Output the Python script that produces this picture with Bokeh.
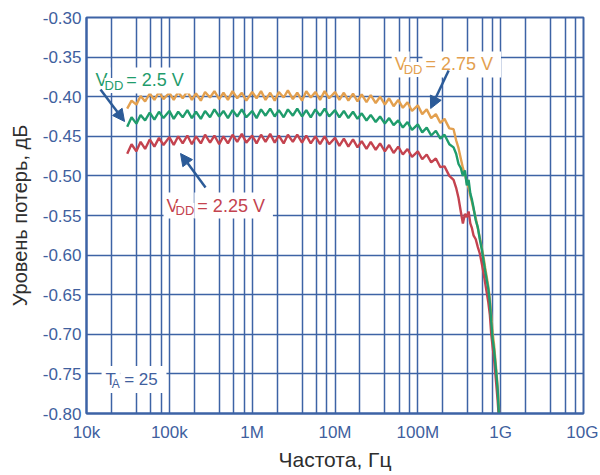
from bokeh.plotting import figure
from bokeh.models import (FixedTicker, CustomJSTickFormatter, NumeralTickFormatter,
                          Label, Arrow, NormalHead)
from bokeh.embed import file_html
from bokeh.resources import INLINE

# ---------------- data ----------------
freq_hz = [31e3, 35e3, 40e3, 45e3, 51e3, 58e3, 66e3, 75e3, 85e3,
           100e3, 113e3, 128e3, 145e3, 165e3, 187e3, 210e3, 240e3, 270e3, 310e3, 350e3, 400e3, 450e3, 510e3, 580e3, 660e3, 750e3, 850e3,
           1.0e6, 1.13e6, 1.28e6, 1.45e6, 1.65e6, 1.87e6, 2.1e6, 2.4e6, 2.7e6, 3.1e6, 3.5e6, 4.0e6, 4.5e6, 5.1e6, 5.8e6, 6.6e6, 7.5e6, 8.5e6,
           10e6, 11.3e6, 12.8e6, 14.5e6, 16.5e6, 18.7e6, 21e6, 24e6, 27e6, 31e6, 35e6, 40e6, 45e6, 51e6, 58e6, 66e6, 75e6, 85e6,
           100e6, 113e6, 128e6, 145e6, 165e6, 187e6, 210e6, 240e6, 270e6,
           290e6, 310e6, 330e6, 350e6, 370e6, 390e6, 410e6, 430e6, 450e6, 470e6,
           500e6, 530e6, 560e6, 590e6, 620e6, 650e6, 680e6, 710e6, 740e6, 770e6, 800e6, 830e6, 860e6, 890e6, 920e6, 950e6, 980e6]

loss_vdd_275 = [-0.415, -0.405, -0.410, -0.399, -0.406, -0.396, -0.404, -0.394, -0.403,
                -0.395, -0.404, -0.394, -0.402, -0.393, -0.404, -0.396, -0.405, -0.394, -0.401, -0.393, -0.403, -0.395, -0.404, -0.393, -0.402, -0.395, -0.405,
                -0.394, -0.402, -0.393, -0.404, -0.395, -0.405, -0.394, -0.401, -0.392, -0.403, -0.395, -0.405, -0.393, -0.401, -0.394, -0.404, -0.393, -0.402,
                -0.394, -0.404, -0.395, -0.405, -0.396, -0.406, -0.397, -0.407, -0.398, -0.408, -0.400, -0.410, -0.402, -0.412, -0.404, -0.414, -0.407, -0.418,
                -0.411, -0.422, -0.416, -0.427, -0.422, -0.433, -0.428, -0.440, -0.441,
                -0.455, -0.465, -0.478, -0.490, -0.498, -0.508, -0.515, -0.525, -0.533, -0.542,
                -0.553, -0.566, -0.578, -0.590, -0.602, -0.616, -0.628, -0.640, -0.655, -0.676, -0.698, -0.712, -0.730, -0.748, -0.766, -0.790, -0.830]

loss_vdd_250 = [-0.438, -0.426, -0.434, -0.423, -0.430, -0.420, -0.429, -0.419, -0.427,
                -0.418, -0.428, -0.419, -0.426, -0.417, -0.427, -0.419, -0.428, -0.418, -0.426, -0.416, -0.425, -0.418, -0.427, -0.417, -0.425, -0.416, -0.426,
                -0.418, -0.427, -0.416, -0.424, -0.415, -0.425, -0.417, -0.426, -0.416, -0.424, -0.415, -0.425, -0.417, -0.426, -0.416, -0.424, -0.415, -0.425,
                -0.417, -0.426, -0.418, -0.427, -0.419, -0.428, -0.421, -0.430, -0.423, -0.432, -0.425, -0.434, -0.427, -0.436, -0.430, -0.439, -0.432, -0.442,
                -0.435, -0.445, -0.439, -0.449, -0.443, -0.453, -0.448, -0.460, -0.464,
                -0.472, -0.485, -0.490, -0.500, -0.493, -0.512, -0.505, -0.522, -0.530, -0.540,
                -0.556, -0.565, -0.580, -0.592, -0.606, -0.620, -0.632, -0.643, -0.660, -0.684, -0.706, -0.718, -0.735, -0.752, -0.770, -0.800, -0.835]

loss_vdd_225 = [-0.472, -0.460, -0.469, -0.457, -0.466, -0.454, -0.463, -0.452, -0.461,
                -0.451, -0.461, -0.450, -0.459, -0.449, -0.460, -0.450, -0.459, -0.448, -0.458, -0.449, -0.460, -0.450, -0.459, -0.448, -0.457, -0.447, -0.458,
                -0.449, -0.459, -0.448, -0.457, -0.447, -0.458, -0.449, -0.459, -0.448, -0.457, -0.448, -0.458, -0.449, -0.459, -0.450, -0.460, -0.450, -0.460,
                -0.452, -0.462, -0.453, -0.463, -0.454, -0.464, -0.456, -0.466, -0.457, -0.467, -0.459, -0.469, -0.461, -0.471, -0.463, -0.473, -0.466, -0.476,
                -0.469, -0.479, -0.473, -0.483, -0.478, -0.489, -0.488, -0.500, -0.505,
                -0.515, -0.528, -0.545, -0.560, -0.548, -0.552, -0.545, -0.560, -0.566, -0.575,
                -0.580, -0.590, -0.598, -0.610, -0.622, -0.635, -0.648, -0.660, -0.675, -0.700, -0.716, -0.730, -0.748, -0.766, -0.784, -0.805, -0.840]

x_tick_values = [1e4, 1e5, 1e6, 1e7, 1e8, 1e9, 1e10]
x_tick_labels = ["10k", "100k", "1M", "10M", "100M", "1G", "10G"]
x_grid_values = [1e4, 2e4, 4e4, 6e4, 8e4, 1e5, 2e5, 4e5, 6e5, 8e5, 1e6, 2e6, 4e6, 6e6, 8e6,
                 1e7, 2e7, 4e7, 6e7, 8e7, 1e8, 2e8, 4e8, 6e8, 8e8, 1e9, 2e9, 4e9, 6e9, 8e9, 1e10]
y_tick_values = [-0.80, -0.75, -0.70, -0.65, -0.60, -0.55, -0.50, -0.45, -0.40, -0.35, -0.30]
x_title = "Частота, Гц"
y_title = "Уровень потерь, дБ"

# ---------------- styles ----------------
FONT = "Liberation Sans"
BLUE = "#3d63a5"
TICK_BLUE = "#40609e"
TITLE = "#2e2e2e"
C_OR = "#e3a04f"
C_GR = "#1f9c6c"
C_RD = "#c4434f"
ARROW = "#2c5b98"

p = figure(width=598, height=473, x_axis_type="log", x_range=(1e4, 1e10), y_range=(-0.80, -0.30),
           output_backend="svg", toolbar_location=None,
           min_border_left=86, min_border_right=15, min_border_top=17, min_border_bottom=60)

p.background_fill_color = "white"
p.border_fill_color = "white"
p.outline_line_color = BLUE
p.outline_line_width = 2

p.xaxis.ticker = FixedTicker(ticks=x_tick_values)
p.xaxis.formatter = CustomJSTickFormatter(
    args=dict(vals=x_tick_values, labs=x_tick_labels),
    code="const i = vals.findIndex(v => Math.abs(Math.log10(v) - Math.log10(tick)) < 1e-6); return i >= 0 ? labs[i] : '';")
p.yaxis.ticker = FixedTicker(ticks=y_tick_values)
p.yaxis.formatter = NumeralTickFormatter(format="0.00")

p.xgrid.ticker = FixedTicker(ticks=x_grid_values)
p.ygrid.ticker = FixedTicker(ticks=y_tick_values)
for g in (p.xgrid, p.ygrid):
    g.grid_line_color = BLUE
    g.grid_line_width = 1.5
    g.grid_line_alpha = 1.0

for ax in (p.xaxis, p.yaxis):
    ax.axis_line_color = BLUE
    ax.axis_line_width = 2
    ax.major_tick_line_color = None
    ax.minor_tick_line_color = None
    ax.major_tick_out = 0
    ax.major_tick_in = 0
    ax.minor_tick_out = 0
    ax.minor_tick_in = 0
    ax.major_label_text_font = FONT
    ax.major_label_text_font_size = "17px"
    ax.major_label_text_color = TICK_BLUE
    ax.axis_label_text_font = FONT
    ax.axis_label_text_font_style = "normal"
    ax.axis_label_text_color = TITLE

p.xaxis.axis_label_text_font_size = "21px"
p.yaxis.axis_label_text_font_size = "20px"
p.xaxis.major_label_standoff = 9
p.xaxis.axis_label_standoff = 3
p.yaxis.major_label_standoff = 5
p.yaxis.axis_label_standoff = 9
p.xaxis.axis_label = x_title
p.yaxis.axis_label = y_title

p.line(freq_hz, loss_vdd_275, line_color=C_OR, line_width=2.4)
p.line(freq_hz, loss_vdd_225, line_color=C_RD, line_width=2.4)
p.line(freq_hz, loss_vdd_250, line_color=C_GR, line_width=2.4)


def sub_label(parts, color):
    # parts: (x, y, text, size, padding)
    for (x, y, t, s, pad) in parts:
        p.add_layout(Label(x=x, y=y, text=t, text_font=FONT, text_font_size=s,
                           text_color=color, text_baseline="alphabetic", text_align="left",
                           background_fill_color="white", padding=pad))


sub_label([(1.18e4, -0.3795, "V", "18px", 3), (2.78e4, -0.3795, " = 2.5 V", "18px", 3),
           (1.65e4, -0.3859, "DD", "13px", 0)], C_GR)
sub_label([(4.83e7, -0.3593, "V", "18px", 3), (1.137e8, -0.3593, " = 2.75 V", "18px", 3),
           (6.74e7, -0.3657, "DD", "13px", 0)], C_OR)
sub_label([(8.51e4, -0.5374, "V", "18px", 3), (2.005e5, -0.5374, " = 2.25 V", "18px", 3),
           (1.188e5, -0.5437, "DD", "13px", 0)], C_RD)
sub_label([(1.52e4, -0.757, "T", "17px", 4), (2.55e4, -0.757, " = 25", "17px", 4),
           (2.02e4, -0.763, "A", "12px", 0)], TICK_BLUE)

for (xs, ys, xe, ye) in [(1.476e4, -0.3909, 2.88e4, -0.4313),
                         (2.355e8, -0.3669, 1.428e8, -0.4149),
                         (2.735e5, -0.5146, 1.365e5, -0.4717)]:
    p.add_layout(Arrow(x_start=xs, y_start=ys, x_end=xe, y_end=ye, line_color=ARROW, line_width=2.5,
                       end=NormalHead(size=12, fill_color=ARROW, line_color=ARROW)))

open("out.html", "w").write(file_html(p, INLINE))
